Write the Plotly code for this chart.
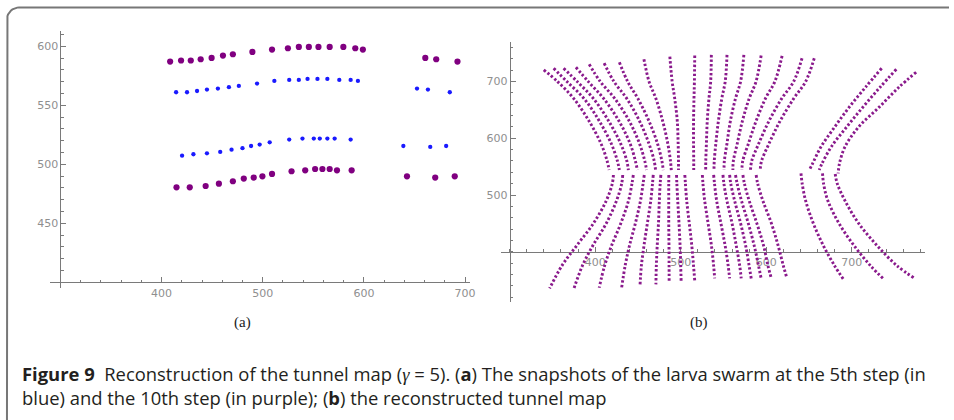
import numpy as np
import plotly.graph_objects as go

W, H = 954, 420

# ---------------- Panel (a) data ----------------
purple_top_x = [408.5, 419.3, 428.9, 438.7, 449.5, 460.7, 470.5, 489.8, 509.2, 524.9, 535.7, 545.6, 555.1, 566.2, 579.7, 591.5, 599.0, 660.7, 671.5, 692.5]
purple_top_y = [587.0, 587.9, 587.9, 589.0, 590.1, 592.1, 593.2, 595.2, 597.2, 598.3, 599.4, 599.4, 599.4, 599.4, 599.4, 598.3, 597.2, 590.1, 589.0, 587.0]
blue_top_x = [414.4, 425.2, 435.1, 444.9, 455.7, 466.6, 476.4, 494.4, 511.5, 526.2, 535.7, 544.3, 554.1, 563.9, 575.7, 586.9, 594.1, 652.5, 663.3, 684.9]
blue_top_y = [561.0, 561.0, 562.1, 563.3, 564.1, 565.3, 566.4, 568.4, 570.6, 571.5, 571.5, 572.3, 572.3, 572.3, 571.5, 571.5, 570.6, 564.1, 563.3, 561.0]
blue_bot_x = [420.3, 431.5, 444.9, 458.0, 469.2, 480.0, 488.5, 497.0, 506.9, 526.2, 539.3, 550.5, 556.4, 563.9, 571.1, 586.9, 639.0, 665.6, 681.3]
blue_bot_y = [507.3, 508.5, 509.3, 510.5, 512.4, 513.6, 515.5, 516.7, 518.6, 520.9, 521.8, 521.8, 521.8, 521.8, 521.8, 520.9, 515.5, 514.7, 515.5]
purple_bot_x = [414.8, 427.9, 443.6, 456.7, 470.5, 481.3, 491.1, 499.7, 509.2, 528.5, 542.0, 551.8, 559.0, 566.2, 573.4, 587.9, 642.6, 670.5, 689.8]
purple_bot_y = [480.5, 480.5, 481.6, 483.6, 485.6, 487.9, 488.7, 489.8, 491.8, 494.1, 494.9, 496.0, 496.0, 496.0, 494.9, 494.9, 489.8, 488.7, 489.8]

# ---------------- Panel (b) data: tunnel curves (read anchor points) ----------------
upper_curves_x = [
    [339.9, 356, 375, 393, 407, 414, 416.3],
    [351.5, 367, 387, 405, 419, 426, 428.3],
    [363.1, 379, 398, 416, 430, 437, 438.8],
    [377.5, 392, 410, 428, 441, 447, 449.3],
    [393.0, 406, 423, 440, 452, 458, 460.1],
    [410.5, 422, 437, 452, 463, 469, 470.6],
    [428.3, 438, 450, 463, 473, 478, 479.6],
    [457.0, 463, 471, 479, 485, 488, 489.0],
    [487.3, 490, 493, 496, 497, 497.4, 497.4],
    [516.4, 516, 515.5, 515, 515, 515.2, 515.2],
    [535.8, 535, 533, 531, 530, 529.3, 529.2],
    [554.1, 552, 548, 544, 541, 539.2, 538.9],
    [573.8, 570, 564, 558, 554, 551.0, 550.6],
    [594.0, 588, 580, 572, 566, 561.5, 561.0],
    [618.5, 610, 599, 588, 579, 572.5, 571.5],
    [641.8, 632, 618, 603, 591, 583.0, 581.6],
    [656.1, 646, 632, 616, 603, 594.5, 592.9],
    [734.9, 716, 697, 680, 664, 654, 650.3],
    [752.0, 733, 713, 694, 676, 665, 661.9],
    [775.2, 755, 732, 708, 692, 685.5, 684.1],
]
upper_curves_y = [
    [720.6, 700, 670, 630, 590, 560, 544],
    [723.5, 700, 670, 630, 590, 560, 544],
    [723.5, 700, 670, 630, 590, 560, 544],
    [725.3, 700, 670, 630, 590, 560, 544],
    [730.6, 700, 670, 630, 590, 560, 544],
    [732.4, 700, 670, 630, 590, 560, 544],
    [734.1, 700, 670, 630, 590, 560, 544],
    [739.4, 700, 670, 630, 590, 560, 544],
    [744.1, 700, 670, 630, 590, 560, 544],
    [745.9, 700, 670, 630, 590, 560, 544],
    [747.1, 700, 670, 630, 590, 560, 544],
    [747.1, 700, 670, 630, 590, 560, 544],
    [747.1, 700, 670, 630, 590, 560, 544],
    [745.9, 700, 670, 630, 590, 560, 544],
    [745.3, 700, 670, 630, 590, 560, 544],
    [741.2, 700, 670, 630, 590, 560, 544],
    [741.2, 700, 670, 630, 590, 560, 544],
    [723.5, 690, 655, 620, 585, 555, 544],
    [721.8, 690, 655, 620, 585, 555, 544],
    [716.5, 690, 655, 620, 585, 555, 538],
]
lower_curves_x = [
    [421.3, 420, 413, 398, 378, 361, 346.8],
    [432.2, 431, 425, 413, 397, 385, 374.8],
    [444.6, 443, 439, 430, 419, 411, 404.7],
    [457.4, 456, 453, 447, 440, 435, 431.0],
    [467.9, 467, 465, 461, 457, 454, 452.4],
    [476.8, 476, 475, 474, 472.5, 471.5, 471.0],
    [486.1, 486, 486, 486, 486.3, 486.4, 486.5],
    [495.1, 495.5, 496.5, 498, 499.3, 500, 500.5],
    [504.8, 505.5, 507, 510, 513, 515, 516.4],
    [525.3, 526, 528, 532, 536, 538.5, 539.7],
    [538.5, 539.5, 542, 547, 552, 555.5, 557.2],
    [549.4, 550.5, 554, 560, 565, 569, 570.7],
    [557.2, 558.5, 563, 570, 576, 580, 582.4],
    [564.1, 566, 571, 579, 586, 591, 594.0],
    [572.7, 574.5, 580, 589, 597, 602, 605.7],
    [588.2, 590, 596, 606, 614, 620, 623.9],
    [640.6, 642, 646, 655, 667, 680, 690.3],
    [665.8, 667, 672, 685, 703, 722, 737.6],
    [680.6, 683, 692, 708, 730, 753, 773.7],
]
lower_curves_y = [
    [535.3, 520, 490, 450, 410, 375, 335.3],
    [535.3, 520, 490, 450, 410, 375, 333.5],
    [535.3, 520, 490, 450, 410, 375, 336.5],
    [535.3, 520, 490, 450, 410, 375, 337.1],
    [535.3, 520, 490, 450, 410, 375, 339.4],
    [535.3, 520, 490, 450, 410, 375, 342.4],
    [535.3, 520, 490, 450, 410, 375, 345.3],
    [535.3, 520, 490, 450, 410, 375, 347.1],
    [535.3, 520, 490, 450, 410, 375, 348.8],
    [535.3, 520, 490, 450, 410, 375, 352.9],
    [535.3, 520, 490, 450, 410, 375, 352.9],
    [535.3, 520, 490, 450, 410, 375, 352.9],
    [535.3, 520, 490, 450, 410, 375, 352.9],
    [535.3, 520, 490, 450, 410, 375, 352.9],
    [535.3, 520, 490, 450, 410, 375, 354.1],
    [535.3, 520, 490, 450, 410, 375, 354.7],
    [538.2, 520, 490, 450, 410, 375, 351.2],
    [538.2, 520, 490, 450, 410, 375, 351.2],
    [537.0, 520, 490, 450, 410, 375, 352.9],
]

tick_a_x = [400, 500, 600, 700]
tick_a_y = [450, 500, 550, 600]
tick_b_x = [400, 500, 600, 700]
tick_b_y = [500, 600, 700]

PURPLE = "#800080"
DOT = "#8a1a8c"
BLUE = "#1a1aff"
AX = "#7a7a7a"
LBL = "#8f8f8f"

fig = go.Figure()

for xs, ys, c, s in [
    (purple_top_x, purple_top_y, PURPLE, 6.2),
    (blue_top_x, blue_top_y, BLUE, 4.3),
    (blue_bot_x, blue_bot_y, BLUE, 4.3),
    (purple_bot_x, purple_bot_y, PURPLE, 6.2),
]:
    fig.add_trace(go.Scatter(x=xs, y=ys, mode="markers", xaxis="x", yaxis="y",
                             marker=dict(color=c, size=s, line=dict(width=0)),
                             showlegend=False, hoverinfo="skip"))

for xs, ys in list(zip(upper_curves_x, upper_curves_y)) + list(zip(lower_curves_x, lower_curves_y)):
    fig.add_trace(go.Scatter(x=xs, y=ys, mode="lines", xaxis="x2", yaxis="y2",
                             line=dict(color=DOT, width=2.9, dash="2.4px,2.1px", shape="spline"),
                             showlegend=False, hoverinfo="skip"))

# page frame (decoration): open box with a rounded top-left corner, drawn on a pixel-space overlay axis
r = 12.0
fx0, fy0 = 7.0, 7.5
ang = np.linspace(np.pi, 1.5 * np.pi, 12)
frame_x = [fx0] + list(fx0 + r + r * np.cos(ang)) + [W + 5]
frame_y = [H + 5] + list(fy0 + r + r * np.sin(ang)) + [fy0]
fig.add_trace(go.Scatter(x=frame_x, y=frame_y, mode="lines", xaxis="x3", yaxis="y3",
                         line=dict(color="#777777", width=2), showlegend=False,
                         hoverinfo="skip", cliponaxis=False))

def px_x(p):
    return p / W

def px_y(p):
    return 1 - p / H

common = dict(showgrid=False, zeroline=False, showline=True, linecolor=AX, linewidth=1,
              ticks="inside", ticklen=5, tickcolor=AX, tickwidth=1,
              tickfont=dict(family="DejaVu Sans", size=11, color=LBL), anchor="free",
              layer="below traces")

fig.update_layout(
    width=W, height=H, margin=dict(l=0, r=0, t=0, b=0),
    paper_bgcolor="white", plot_bgcolor="rgba(0,0,0,0)",
    xaxis=dict(common, domain=[px_x(50.5), px_x(472.6)], range=[290, 705],
               tickmode="array", tickvals=tick_a_x, position=px_y(282.3),
               minor=dict(tickmode="linear", tick0=0, dtick=20, ticks="inside", ticklen=2.5, tickcolor=AX)),
    yaxis=dict(common, domain=[px_y(288.2), px_y(30.9)], range=[395, 613],
               tickmode="array", tickvals=tick_a_y, position=px_x(60.7),
               minor=dict(tickmode="linear", tick0=0, dtick=10, ticks="inside", ticklen=2.5, tickcolor=AX)),
    xaxis2=dict(common, domain=[px_x(503.7), px_x(929.4)], range=[290, 785],
                tickmode="array", tickvals=tick_b_x, position=px_y(251.7),
                minor=dict(tickmode="linear", tick0=0, dtick=20, ticks="inside", ticklen=2.5, tickcolor=AX)),
    yaxis2=dict(common, domain=[px_y(301.6), px_y(41.9)], range=[312, 770],
                tickmode="array", tickvals=tick_b_y, position=px_x(512.3),
                minor=dict(tickmode="linear", tick0=0, dtick=20, ticks="inside", ticklen=2.5, tickcolor=AX)),
    xaxis3=dict(domain=[0, 1], range=[0, W], visible=False, fixedrange=True, anchor="y3"),
    yaxis3=dict(domain=[0, 1], range=[H, 0], visible=False, fixedrange=True, anchor="x3"),
)

lab_font = dict(family="Liberation Serif", size=15, color="#222")
fig.add_annotation(x=px_x(244), y=px_y(322), xref="paper", yref="paper", text="(a)",
                   xanchor="center", yanchor="middle", showarrow=False, font=lab_font)
fig.add_annotation(x=px_x(703), y=px_y(322), xref="paper", yref="paper", text="(b)",
                   xanchor="center", yanchor="middle", showarrow=False, font=lab_font)

cap_font = dict(family="Open Sans", size=18.4, color="#231f20")
gamma = "<span style=\"font-family:'Liberation Serif'\"><i>γ</i></span>"
fig.add_annotation(x=px_x(20), y=px_y(373), xref="paper", yref="paper", xanchor="left", yanchor="middle",
                   text="<b>Figure 9</b>  Reconstruction of the tunnel map (" + gamma + " = 5). (<b>a</b>) The snapshots of the larva swarm at the 5th step (in",
                   showarrow=False, font=cap_font)
fig.add_annotation(x=px_x(20), y=px_y(397), xref="paper", yref="paper", xanchor="left", yanchor="middle",
                   text="blue) and the 10th step (in purple); (<b>b</b>) the reconstructed tunnel map",
                   showarrow=False, font=cap_font)

fig.write_html("out.html", config={"displayModeBar": False},
               post_script="document.body.style.margin='0px';")
